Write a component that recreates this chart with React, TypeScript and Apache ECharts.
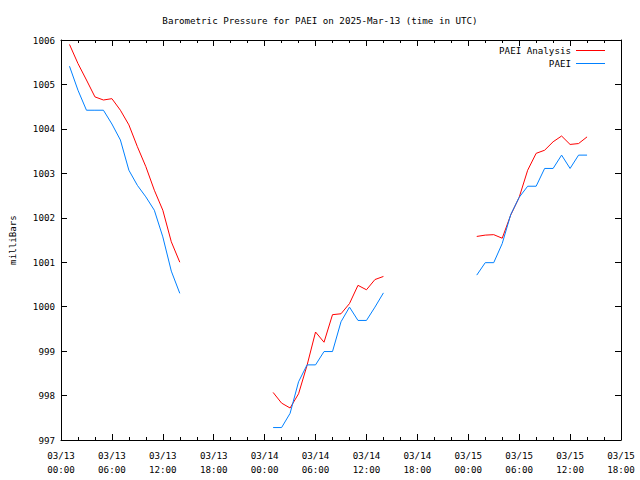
import React, { useEffect, useRef } from "react";
import * as echarts from "echarts";

// hours since 2025-03-13 00:00 UTC
const hours: number[] = Array.from({ length: 63 }, (_, i) => i);

const analysisValues: (number | null)[] = [
  null, 1005.9, 1005.47, 1005.1, 1004.72, 1004.65, 1004.68, 1004.42, 1004.09, 1003.6,
  1003.15, 1002.62, 1002.17, 1001.46, 1001.0, null, null, null, null, null,
  null, null, null, null, null, 998.07, 997.83, 997.72, 998.04, 998.68,
  999.43, 999.2, 999.82, 999.84, 1000.07, 1000.48, 1000.38, 1000.61, 1000.68, null,
  null, null, null, null, null, null, null, null, null, 1001.58,
  1001.61, 1001.62, 1001.54, 1002.06, 1002.46, 1003.07, 1003.45, 1003.52, 1003.71, 1003.84,
  1003.65, 1003.67, 1003.82,
];

const stationValues: (number | null)[] = [
  null, 1005.41, 1004.87, 1004.42, 1004.42, 1004.42, 1004.11, 1003.75, 1003.07, 1002.73,
  1002.47, 1002.17, 1001.57, 1000.8, 1000.3, null, null, null, null, null,
  null, null, null, null, null, 997.28, 997.28, 997.6, 998.31, 998.69,
  998.69, 998.99, 998.99, 999.66, 999.99, 999.69, 999.69, 999.99, 1000.31, null,
  null, null, null, null, null, null, null, null, null, 1000.71,
  1000.99, 1000.99, 1001.42, 1002.07, 1002.46, 1002.71, 1002.71, 1003.11, 1003.11, 1003.41,
  1003.11, 1003.41, 1003.41,
];

const dayLabels: string[] = ["03/13", "03/14", "03/15"];
const timeLabels: string[] = ["00:00", "06:00", "12:00", "18:00"];

const FONT = "DejaVu Sans Mono";

export default function App() {
  const ref = useRef<HTMLDivElement>(null);
  useEffect(() => {
    if (!ref.current) return;
    const chart = echarts.init(ref.current, null, { renderer: "svg" });
    const toData = (vals: (number | null)[]) => hours.map((h, i) => [h, vals[i] === null ? "-" : vals[i]]);
    const xLabel = (v: number) => {
      const d = Math.floor(v / 24);
      const t = (v % 24) / 6;
      return `${dayLabels[d]}\n${timeLabels[t]}`;
    };
    const baseX = {
      type: "value" as const,
      min: 0,
      max: 66,
      interval: 6,
      splitLine: { show: false },
      axisLine: { show: true, onZero: false, lineStyle: { color: "#000", width: 1 } },
      axisTick: { show: true, inside: true, length: 6, lineStyle: { color: "#000" } },
      minorTick: { show: true, splitNumber: 3, length: 3, lineStyle: { color: "#000" } },
    };
    const baseY = {
      type: "value" as const,
      min: 997,
      max: 1006,
      interval: 1,
      splitLine: { show: false },
      axisLine: { show: true, onZero: false, lineStyle: { color: "#000", width: 1 } },
      axisTick: { show: true, inside: true, length: 6, lineStyle: { color: "#000" } },
    };
    const legendBase = {
      right: 30,
      align: "right" as const,
      icon: "rect",
      itemWidth: 29,
      itemHeight: 1,
      itemGap: 0,
      textStyle: { fontFamily: FONT, fontSize: 9.2, color: "#000" },
    };
    chart.setOption({
      animation: false,
      backgroundColor: "#fff",
      textStyle: { fontFamily: FONT, color: "#000" },
      title: {
        text: "Barometric Pressure for PAEI on 2025-Mar-13 (time in UTC)",
        left: "center",
        top: 11,
        textStyle: { fontFamily: FONT, fontSize: 9.2, fontWeight: "normal", color: "#000" },
      },
      legend: [
        { ...legendBase, data: ["PAEI Analysis"], top: 41 },
        { ...legendBase, data: ["PAEI"], top: 54 },
      ],
      grid: { left: 58, right: 19, top: 40, bottom: 40, containLabel: false },
      xAxis: [
        {
          ...baseX,
          position: "bottom",
          axisLabel: {
            fontFamily: FONT,
            fontSize: 9.2,
            color: "#000",
            margin: 8,
            lineHeight: 14,
            formatter: xLabel,
          },
        },
        { ...baseX, position: "top", axisLabel: { show: false } },
      ],
      yAxis: [
        {
          ...baseY,
          position: "left",
          name: "milliBars",
          nameLocation: "middle",
          nameGap: 44,
          nameTextStyle: { fontFamily: FONT, fontSize: 9.2, color: "#000" },
          axisLabel: {
            fontFamily: FONT,
            fontSize: 9.2,
            color: "#000",
            margin: 6,
            formatter: (v: number) => String(v),
          },
        },
        { ...baseY, position: "right", axisLabel: { show: false } },
      ],
      series: [
        {
          name: "PAEI Analysis",
          type: "line",
          data: toData(analysisValues),
          showSymbol: false,
          symbol: "none",
          connectNulls: false,
          lineStyle: { color: "#ff0000", width: 1 },
          itemStyle: { color: "#ff0000" },
        },
        {
          name: "PAEI",
          type: "line",
          data: toData(stationValues),
          showSymbol: false,
          symbol: "none",
          connectNulls: false,
          lineStyle: { color: "#0080ff", width: 1 },
          itemStyle: { color: "#0080ff" },
        },
      ],
    });
    return () => chart.dispose();
  }, []);
  return <div ref={ref} style={{ width: 640, height: 480, position: "absolute", left: 0, top: 0 }} />;
}
